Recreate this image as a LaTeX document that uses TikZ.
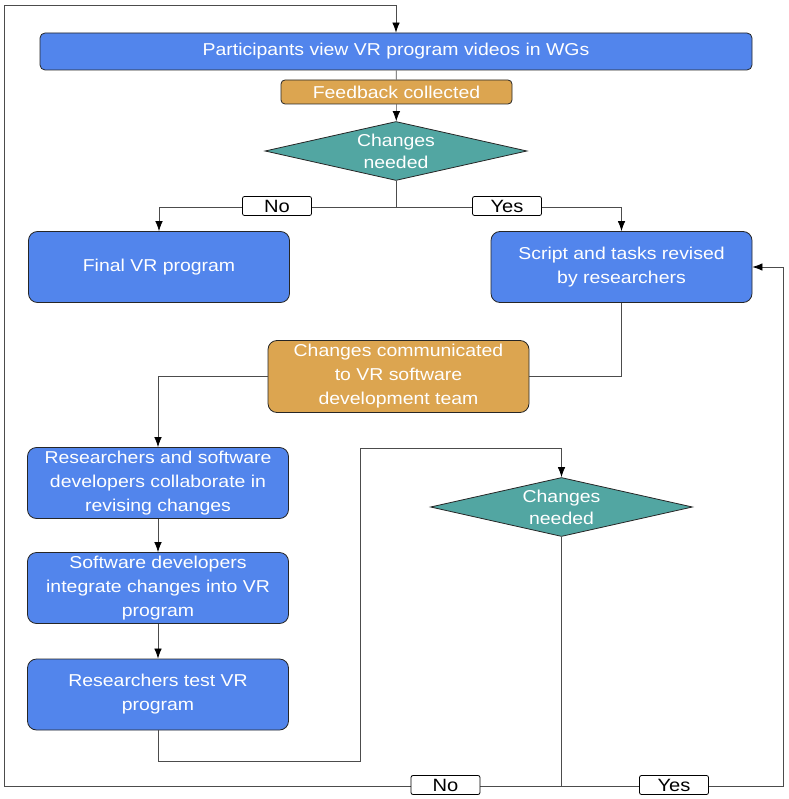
\documentclass[tikz,border=0pt]{standalone}
\usepackage{fontspec}
\setmainfont{Liberation Sans}[FakeStretch=1.13]
\usetikzlibrary{arrows.meta,shapes.geometric,positioning}
\definecolor{boxblue}{RGB}{82,133,236}
\definecolor{boxorange}{RGB}{220,165,80}
\definecolor{boxteal}{RGB}{82,166,162}

\begin{document}
\begin{tikzpicture}[
  x=1pt, y=-1pt, >={Latex[length=10pt,width=7.5pt,color=black]},
  every node/.style={font=\fontsize{17.2}{24}\selectfont},
  proc/.style={draw=black!85, line width=0.8pt, rounded corners=9pt, fill=boxblue,
               text=white, align=center, minimum width=261pt, minimum height=71pt, inner sep=2pt},
  note/.style={proc, fill=boxorange},
  decide/.style={diamond, draw=black!85, line width=0.8pt, fill=boxteal, text=white,
                 align=center, minimum width=262pt, minimum height=59pt,
                 shape aspect=4.4, inner sep=0pt, font=\fontsize{17.2}{22}\selectfont},
  tag/.style={draw=black, line width=0.8pt, rounded corners=2pt, fill=white,
              minimum width=69pt, minimum height=19pt, inner sep=0pt,
              font=\fontsize{17.8}{20}\selectfont},
  link/.style={draw=black!70, line width=0.7pt},
]
\useasboundingbox (0,0) rectangle (788,799);
\node[proc, minimum width=712pt, minimum height=37pt, rounded corners=5pt] (view) at (396,51.5)
  {Participants view VR program videos in WGs};
\node[note, minimum width=231pt, minimum height=24pt, rounded corners=4pt] (feedback) at (396.5,92)
  {Feedback collected};
\node[decide] (check1) at (396,151) {Changes\\needed};
\node[proc] (final) at (159,267) {Final VR program};
\node[proc] (revise) at (621.5,267) {Script and tasks revised\\by researchers};
\node[note, minimum height=72pt] (inform) at (398.5,376.5)
  {Changes communicated\\to VR software\\development team};
\node[proc] (collab) at (158,483) {Researchers and software\\developers collaborate in\\revising changes};
\node[proc] (integrate) at (158,588) {Software developers\\integrate changes into VR\\program};
\node[proc] (test) at (158,694.5) {Researchers test VR\\program};
\node[decide] (check2) at (561.5,507) {Changes\\needed};
% connectors
\coordinate (split) at (396,207);
\draw[link] (view) -- (feedback);
\draw[link,->] (feedback) -- (check1);
\draw[link] (check1.south) -- (split);
\draw[link,->] (split) -| (final.north);
\draw[link,->] (split) -| (revise.north);
\draw[link] (revise.south) |- (inform.east);
\draw[link,->] (inform.west) -| (collab.north);
\draw[link,->] (collab) -- (integrate);
\draw[link,->] (integrate) -- (test);
% retest loop
\coordinate (loopdown) at (360,761);
\coordinate (loopup) at (360,448);
\draw[link,->] (test.south) |- (loopdown) -- (loopup) -| (check2.north);
% outer loops
\coordinate (merge) at (561.5,786);
\coordinate (farleft) at (4,786);
\coordinate (topleft) at (4,5);
\coordinate (farright) at (783,786);
\draw[link] (check2.south) -- (merge);
\draw[link,->] (merge) -- (farleft) -- (topleft) -| (view.north);
\draw[link,->] (merge) -- (farright) |- (revise.east);
% labels
\node[tag] (no1) at (277,206) {No};
\node[tag] (yes1) at (507,206) {Yes};
\node[tag] (no2) at (445.5,785) {No};
\node[tag] (yes2) at (674,785) {Yes};
\end{tikzpicture}
\end{document}
